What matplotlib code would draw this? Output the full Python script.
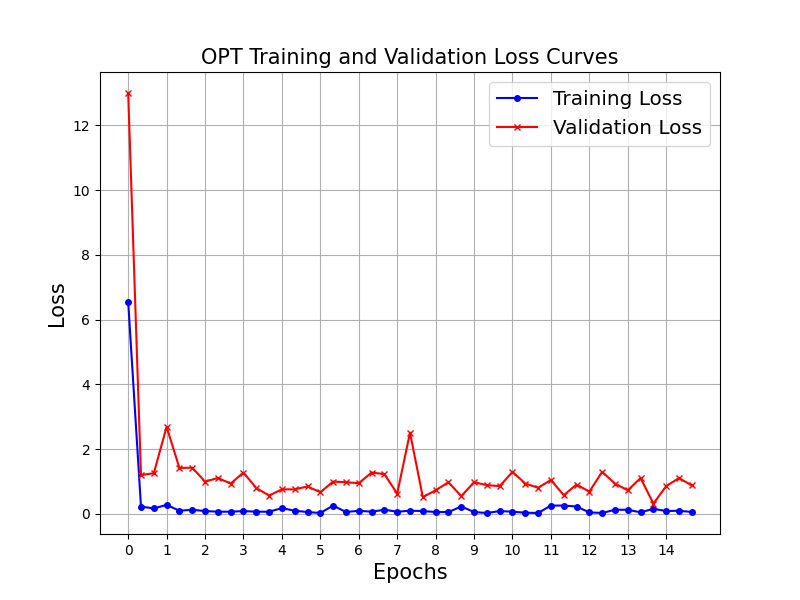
import numpy as np
import matplotlib
matplotlib.use('Agg')
import matplotlib.pyplot as plt

# three evaluations per epoch
EVALS_PER_EPOCH = 3

train_loss = [6.55, 0.23, 0.17, 0.28, 0.10, 0.13, 0.09, 0.07, 0.07, 0.09,
              0.07, 0.07, 0.18, 0.10, 0.06, 0.03, 0.26, 0.06, 0.10, 0.07,
              0.13, 0.07, 0.10, 0.09, 0.06, 0.06, 0.23, 0.06, 0.03, 0.09,
              0.07, 0.04, 0.03, 0.26, 0.26, 0.23, 0.05, 0.03, 0.13, 0.13,
              0.05, 0.16, 0.09, 0.10, 0.06]
val_loss = [13.0, 1.20, 1.26, 2.69, 1.42, 1.43, 1.00, 1.11, 0.94, 1.28,
            0.80, 0.57, 0.76, 0.76, 0.85, 0.67, 1.00, 0.98, 0.95, 1.28,
            1.23, 0.63, 2.51, 0.52, 0.73, 0.98, 0.55, 0.98, 0.89, 0.86,
            1.30, 0.94, 0.81, 1.05, 0.58, 0.91, 0.69, 1.30, 0.94, 0.73,
            1.11, 0.32, 0.86, 1.11, 0.88]

epochs = np.arange(len(train_loss)) / EVALS_PER_EPOCH


def main():
    plt.figure(figsize=(8, 6), dpi=100)
    plt.plot(epochs, train_loss, color='blue', marker='o', markersize=4, label='Training Loss')
    plt.plot(epochs, val_loss, color='red', marker='x', markersize=5, label='Validation Loss')
    plt.title('OPT Training and Validation Loss Curves', fontsize=15)
    plt.xlabel('Epochs', fontsize=15)
    plt.ylabel('Loss', fontsize=15)
    plt.xticks(np.arange(0, 15))
    plt.legend(fontsize=14.4)
    plt.grid(True)
    plt.savefig('out.png')
    plt.close()


if __name__ == '__main__':
    main()
